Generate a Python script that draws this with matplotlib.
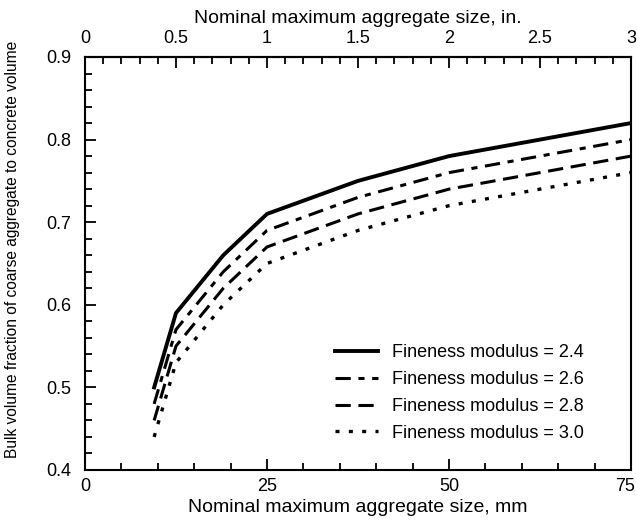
import matplotlib
matplotlib.use("Agg")
import matplotlib.pyplot as plt
import matplotlib.transforms as mtransforms
from matplotlib.ticker import MultipleLocator, FixedLocator

plt.rcParams['font.family'] = ['Liberation Sans', 'DejaVu Sans']

sizes_mm = [9.5, 12.5, 19, 25, 37.5, 50, 75]
fm_24 = [0.50, 0.59, 0.66, 0.71, 0.75, 0.78, 0.82]
fm_26 = [0.48, 0.57, 0.64, 0.69, 0.73, 0.76, 0.80]
fm_28 = [0.46, 0.55, 0.62, 0.67, 0.71, 0.74, 0.78]
fm_30 = [0.44, 0.53, 0.60, 0.65, 0.69, 0.72, 0.76]
labels = ["Fineness modulus = 2.4", "Fineness modulus = 2.6",
          "Fineness modulus = 2.8", "Fineness modulus = 3.0"]
top_ticks = [0, 0.5, 1, 1.5, 2, 2.5, 3]
top_labels = ["0", "0.5", "1", "1.5", "2", "2.5", "3"]

fig = plt.figure(figsize=(6.37, 5.20), dpi=100)
ax = fig.add_axes([0.1334, 0.0962, 0.8572, 0.7942])

styles = [dict(ls='-', lw=2.8), dict(ls=(0, (5, 2.5, 2, 2.5)), lw=2.2),
          dict(ls=(0, (5, 2.5)), lw=2.2), dict(ls=(0, (1.2, 2.8)), lw=2.4)]
for ys, lab, st in zip([fm_24, fm_26, fm_28, fm_30], labels, styles):
    ax.plot(sizes_mm, ys, color='black', label=lab, **st)

ax.set_xlim(0, 75)
ax.set_ylim(0.4, 0.9)
ax.xaxis.set_major_locator(FixedLocator([0, 25, 50, 75]))
ax.xaxis.set_minor_locator(MultipleLocator(5))
ax.yaxis.set_minor_locator(MultipleLocator(0.02))
ax.set_yticks([0.4, 0.5, 0.6, 0.7, 0.8, 0.9])
ax.set_yticklabels(["0.4", "0.5", "0.6", "0.7", "0.8", "0.9"])
ax.tick_params(which='both', direction='in', top=False, right=False, labelsize=13)
ax.tick_params(which='major', length=8, width=1.3)
ax.tick_params(which='minor', length=5, width=1.3)
ax.tick_params(axis='x', pad=6)
ax.tick_params(axis='y', pad=10)
for s in ax.spines.values():
    s.set_linewidth(1.5)

# nudge the last bottom tick label slightly left so it stays inside the figure
last = ax.get_xticklabels()[-1]
last.set_transform(last.get_transform() +
                   mtransforms.ScaledTranslation(-6 / 100, 0, fig.dpi_scale_trans))

sec = ax.secondary_xaxis('top', functions=(lambda x: x / 25.0, lambda x: x * 25.0))
sec.set_xticks(top_ticks)
sec.set_xticklabels(top_labels)
sec.xaxis.set_minor_locator(MultipleLocator(0.1))
sec.tick_params(which='both', direction='in', labelsize=13)
sec.tick_params(which='major', length=8, width=1.3, pad=7)
sec.tick_params(which='minor', length=5, width=1.3)
sec.spines['top'].set_linewidth(1.5)
sec.set_xlabel("Nominal maximum aggregate size, in.", fontsize=14, labelpad=5)

ax.set_xlabel("Nominal maximum aggregate size, mm", fontsize=14, labelpad=3)
ax.set_ylabel("Bulk volume fraction of coarse aggregate to concrete volume",
              fontsize=11.2)
ax.yaxis.set_label_coords(-0.119, 0.533)

leg = ax.legend(loc='upper left', frameon=False, fontsize=13, handlelength=2.4,
                handletextpad=0.75, labelspacing=0.55, borderpad=0, borderaxespad=0,
                bbox_to_anchor=(335 / 637, 1 - 344 / 520),
                bbox_transform=fig.transFigure)

fig.savefig("out.png", dpi=100)
